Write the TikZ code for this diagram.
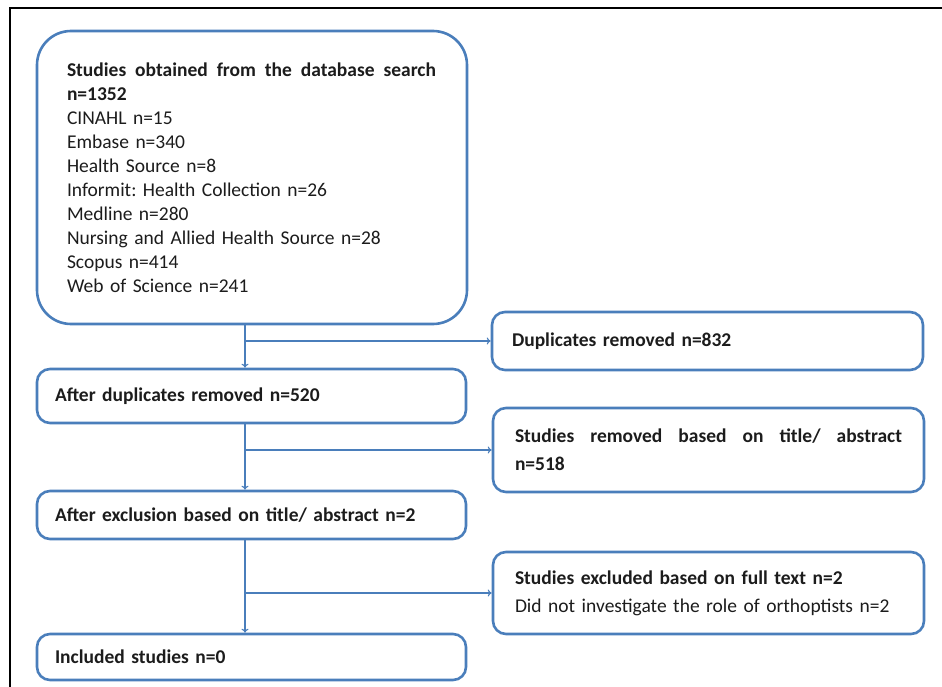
\documentclass[tikz,border=0pt]{standalone}
\usepackage{fontspec}
\setmainfont{Carlito}
\usepackage{tikz}
\usetikzlibrary{calc,arrows.meta,positioning}
\frenchspacing
\definecolor{boxblue}{RGB}{74,126,187}
\definecolor{inkgray}{RGB}{28,28,28}
\tikzset{
  box/.style={draw=boxblue, line width=2.6pt, rounded corners=13pt, fill=white,
    align=left, text=inkgray, inner ysep=0pt,
    font=\fontsize{19.5}{24}\selectfont},
  flow/.style={draw=boxblue, line width=1.1pt, -{To[length=4pt,width=7pt]}}
}

\begin{document}
\begin{tikzpicture}[x=1pt,y=-1pt]
          \useasboundingbox (0,0) rectangle (942,687);
          \draw[line width=2.4pt] (10,700) -- (10,8) -- (950,8);

          \coordinate (spine) at (245,0);

          \node[box, rounded corners=34pt, inner xsep=30pt, text width=370pt,
                minimum width=430pt, minimum height=293pt] (search) at (252,177.5)
                {\makebox[369pt]{\bfseries Studies\hfill obtained\hfill from\hfill the\hfill database\hfill search}\\
                 \textbf{n=1352}\\
                 CINAHL n=15\\
                 Embase n=340\\
                 Health Source n=8\\
                 Informit: Health Collection n=26\\
                 Medline n=280\\
                 Nursing and Allied Health Source n=28\\
                 Scopus n=414\\
                 Web of Science n=241};

          \node[box, inner xsep=18pt, text width=393pt,
                minimum width=429pt, minimum height=54pt] (dedup) at (251.5,396)
                {\bfseries After duplicates removed n=520};
          \node[box, inner xsep=18pt, text width=393pt,
                minimum width=429pt, minimum height=48pt] (screen) at (251.5,515)
                {\bfseries After exclusion based on title/ abstract n=2};
          \node[box, inner xsep=18pt, text width=393pt,
                minimum width=429pt, minimum height=46pt] (incl) at (251.5,657)
                {\bfseries Included studies n=0};

          \node[box, inner xsep=20pt, text width=391pt,
                minimum width=431pt, minimum height=58pt] (dup) at (707.5,341)
                {\bfseries Duplicates removed n=832};
          \node[box, inner xsep=22pt, text width=387pt,
                font=\fontsize{19.5}{28}\selectfont,
                minimum width=431pt, minimum height=84pt] (tiab) at (708.5,450)
                {\makebox[387pt]{\bfseries Studies\hfill removed\hfill based\hfill on\hfill title/\hfill abstract}\\
                 \textbf{n=518}};
          \node[box, inner xsep=22pt, text width=387pt,
                font=\fontsize{19.5}{28}\selectfont,
                minimum width=431pt, minimum height=82pt] (full) at (708.5,593)
                {\textbf{Studies excluded based on full text n=2}\\
                 Did not investigate the role of orthoptists n=2};

          \draw[flow] (search.south -| spine) -- (dedup.north -| spine);
          \draw[flow] (dedup.south -| spine) -- (screen.north -| spine);
          \draw[flow] (screen.south -| spine) -- (incl.north -| spine);

          \draw[flow] (dup.west -| spine) -- (dup.west);
          \draw[flow] (tiab.west -| spine) -- (tiab.west);
          \draw[flow] (full.west -| spine) -- (full.west);
\end{tikzpicture}
\end{document}
